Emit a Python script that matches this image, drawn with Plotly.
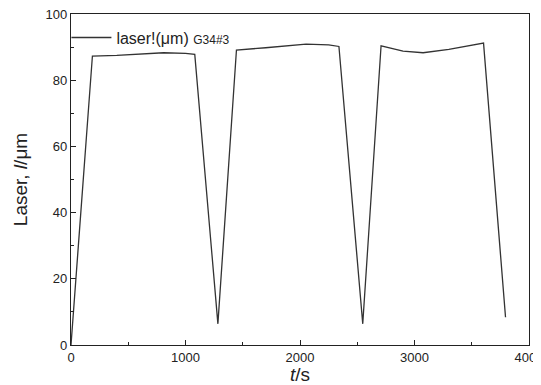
import plotly.graph_objects as go

time_s = [0, 187, 400, 600, 809, 1000, 1081, 1283, 1445, 1700, 2053, 2250, 2340,
          2548, 2708, 2900, 3075, 3300, 3603, 3795]
laser_um = [0, 87.3, 87.5, 88.0, 88.3, 88.1, 87.8, 6.4, 89.1, 89.8, 90.9, 90.7, 90.2,
            6.4, 90.4, 88.8, 88.3, 89.3, 91.2, 8.4]
x_ticks = [0, 1000, 2000, 3000, 4000]
y_ticks = [0, 20, 40, 60, 80, 100]

fig = go.Figure()
fig.add_trace(go.Scatter(
    x=time_s, y=laser_um, mode="lines",
    line=dict(color="#333333", width=1.3),
    name="laser!(μm) <span style='font-size:12px'>G34#3</span>",
    showlegend=True,
))

axis_common = dict(
    showline=True, linecolor="#222222", linewidth=1.3, mirror=True,
    ticks="inside", ticklen=5, tickwidth=1.2, tickcolor="#222222",
    showgrid=False, zeroline=False, automargin=False,
    ticklabeloverflow="allow",
    tickfont=dict(family="Liberation Sans, Arial", size=13, color="#222222"),
)

fig.update_xaxes(
    range=[0, 4000], tickvals=x_ticks, ticktext=[str(v) for v in x_ticks],
    minor=dict(ticks="inside", ticklen=3, tickcolor="#222222", dtick=500),
    title=dict(text="<i>t</i>/s", font=dict(family="Liberation Sans, Arial", size=19, color="#222222"), standoff=4),
    **axis_common,
)
fig.update_yaxes(
    range=[0, 100], tickvals=y_ticks, ticktext=[str(v) for v in y_ticks],
    minor=dict(ticks="inside", ticklen=3, tickcolor="#222222", dtick=10),
    title=dict(text="Laser, <i>l</i>/μm", font=dict(family="Liberation Sans, Arial", size=19, color="#222222"), standoff=12),
    **axis_common,
)

fig.update_layout(
    width=533, height=377,
    margin=dict(l=63, r=12, t=6, b=40),
    paper_bgcolor="white", plot_bgcolor="white",
    font=dict(family="Liberation Sans, Arial", color="#222222"),
    legend=dict(
        x=-0.01, y=0.98, xanchor="left", yanchor="top",
        bgcolor="rgba(0,0,0,0)", borderwidth=0,
        font=dict(family="Liberation Sans, Arial", size=16, color="#222222"),
        itemwidth=40,
    ),
)

fig.write_html("out.html")
